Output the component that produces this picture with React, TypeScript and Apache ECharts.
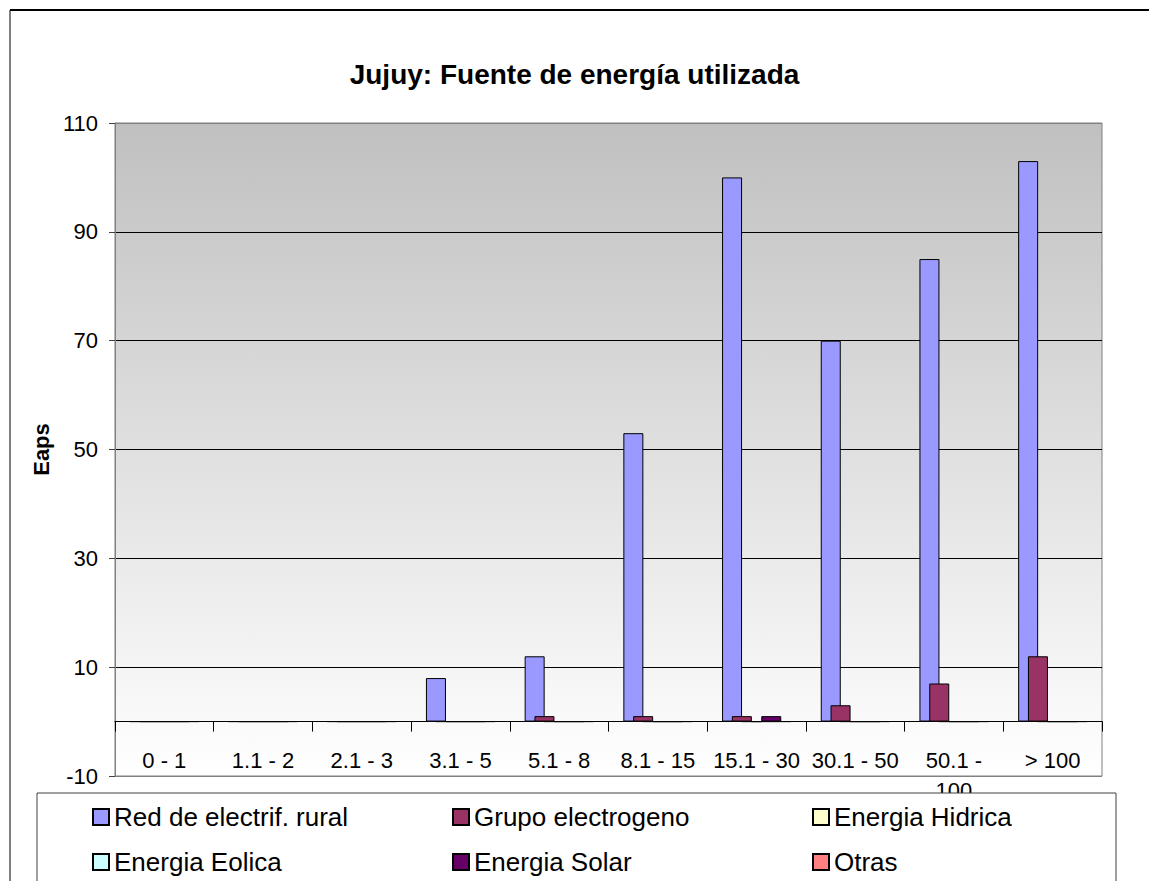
import React, { useEffect, useRef } from "react";
import * as echarts from "echarts";

const categories = ["0 - 1", "1.1 - 2", "2.1 - 3", "3.1 - 5", "5.1 - 8", "8.1 - 15", "15.1 - 30", "30.1 - 50", "50.1 -\n100", "> 100"];
const redRural = [0, 0, 0, 8, 12, 53, 100, 70, 85, 103];
const grupoElectrogeno = [0, 0, 0, 0, 1, 1, 1, 3, 7, 12];
const energiaHidrica = [0, 0, 0, 0, 0, 0, 0, 0, 0, 0];
const energiaEolica = [0, 0, 0, 0, 0, 0, 0, 0, 0, 0];
const energiaSolar = [0, 0, 0, 0, 0, 0, 1, 0, 0, 0];
const otras = [0, 0, 0, 0, 0, 0, 0, 0, 0, 0];

const seriesNames = ["Red de electrif. rural", "Grupo electrogeno", "Energia Hidrica", "Energia Eolica", "Energia Solar", "Otras"];
const seriesData = [redRural, grupoElectrogeno, energiaHidrica, energiaEolica, energiaSolar, otras];
const seriesColors = ["#9999FF", "#993366", "#FFFFCC", "#CCFFFF", "#660066", "#FF8080"];
const yTicks = { min: -10, max: 110, interval: 20 };

const FONT = "'Liberation Sans', Arial, sans-serif";

export default function App() {
  const ref = useRef<HTMLDivElement>(null);

  useEffect(() => {
    if (!ref.current) return;
    const chart = echarts.init(ref.current, null, { renderer: "svg" });

    const legendPos = [
      [92, 802], [452, 802], [812, 802],
      [92, 847], [452, 847], [812, 847],
    ];

    const option: any = {
      animation: false,
      backgroundColor: "#ffffff",
      title: {
        text: "Jujuy: Fuente de energía utilizada",
        left: "center",
        top: 60,
        padding: 0,
        textStyle: { fontFamily: FONT, fontSize: 28, fontWeight: "bold", color: "#000", lineHeight: 28 },
      },
      grid: {
        left: 115,
        top: 123,
        right: 47,
        bottom: 105,
        show: true,
        borderColor: "#808080",
        borderWidth: 1,
        backgroundColor: new echarts.graphic.LinearGradient(0, 0, 0, 1, [
          { offset: 0, color: "#c0c0c0" },
          { offset: 1, color: "#ffffff" },
        ]),
      },
      xAxis: {
        type: "category",
        data: categories,
        axisLine: { onZero: true, lineStyle: { color: "#000", width: 1 } },
        axisTick: { show: true, length: 10, lineStyle: { color: "#000" } },
        axisLabel: { interval: 0, margin: -31, fontFamily: FONT, fontSize: 22, color: "#000", lineHeight: 30 },
        splitLine: { show: false },
      },
      yAxis: {
        type: "value",
        min: yTicks.min,
        max: yTicks.max,
        interval: yTicks.interval,
        name: "Eaps",
        nameLocation: "middle",
        nameGap: 63,
        nameRotate: 90,
        nameTextStyle: { fontFamily: FONT, fontSize: 22, fontWeight: "bold", color: "#000" },
        axisLine: { show: true, lineStyle: { color: "#808080" } },
        axisTick: { show: true, length: 6, lineStyle: { color: "#404040" } },
        axisLabel: { margin: 17, fontFamily: FONT, fontSize: 22, color: "#000" },
        splitLine: {
          show: true,
          lineStyle: { color: ["#808080", "#000", "#000", "#000", "#000", "#000", "#808080"], width: 1 },
        },
      },
      legend: seriesNames.map((n, i) => ({
        data: [n],
        left: legendPos[i][0],
        top: legendPos[i][1],
        padding: 0,
        itemWidth: 16,
        itemHeight: 16,
        icon: "rect",
        z: 5,
        textStyle: { fontFamily: FONT, fontSize: 26, color: "#000", lineHeight: 30 },
      })),
      graphic: [
        {
          type: "rect",
          z: 3,
          shape: { x: 37, y: 793, width: 1079, height: 200 },
          style: { fill: "#ffffff", stroke: "#404040", lineWidth: 1 },
        },
        {
          type: "line",
          z: 3,
          shape: { x1: 10, y1: 10, x2: 1200, y2: 10 },
          style: { stroke: "#000", lineWidth: 2 },
        },
        {
          type: "line",
          z: 3,
          shape: { x1: 10, y1: 10, x2: 10, y2: 1000 },
          style: { stroke: "#000", lineWidth: 1 },
        },
      ],
      series: seriesNames.map((n, i) => ({
        name: n,
        type: "bar",
        data: seriesData[i],
        barWidth: 20,
        barGap: "-51%",
        itemStyle: { color: seriesColors[i], borderColor: "#000", borderWidth: 1 },
      })),
    };

    chart.setOption(option);
    return () => chart.dispose();
  }, []);

  return (
    <div
      ref={ref}
      style={{ position: "fixed", left: 0, top: 0, width: 1149, height: 881, background: "#fff" }}
    />
  );
}
